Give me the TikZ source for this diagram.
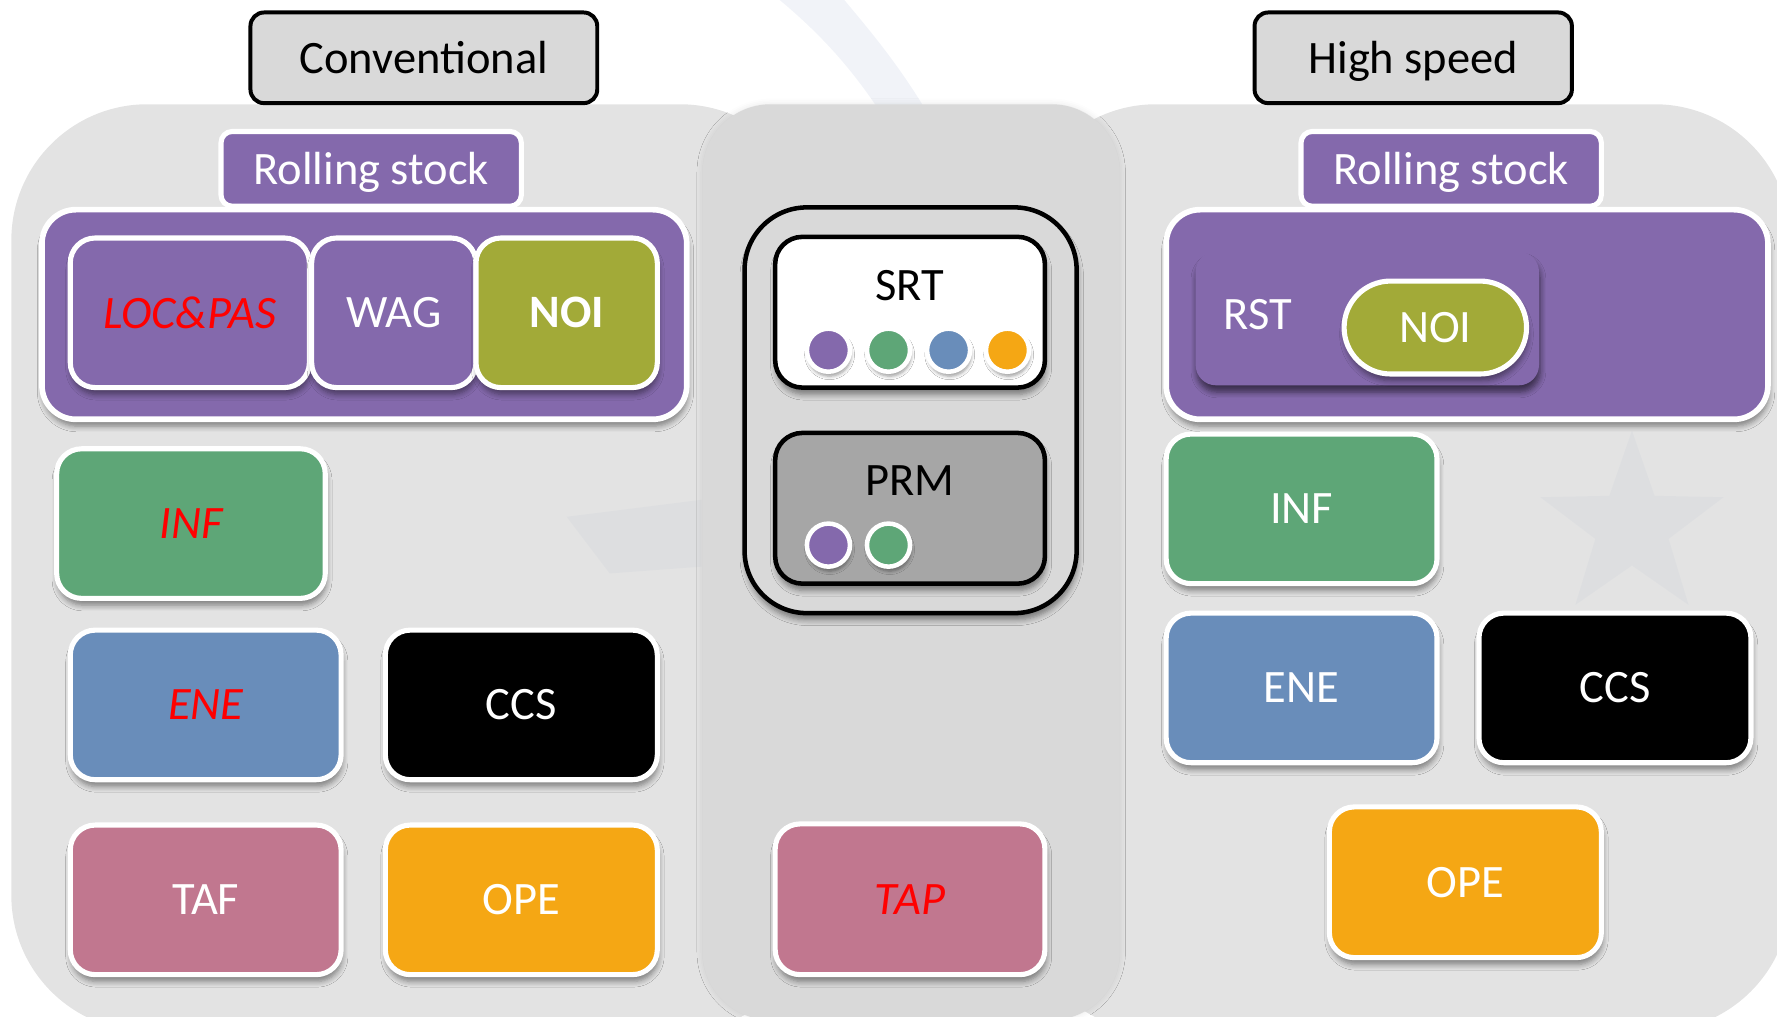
\documentclass[tikz,border=0pt]{standalone}
\usepackage{fontspec}
\setmainfont{Carlito}
\usetikzlibrary{shadows.blur}

\definecolor{panelL}{HTML}{E3E3E3}
\definecolor{panelC}{HTML}{D9D9D9}
\definecolor{hdrgrey}{HTML}{D9D9D9}
\definecolor{rsviolet}{HTML}{8469AC}
\definecolor{noiolive}{HTML}{A2AA38}
\definecolor{infgreen}{HTML}{5EA677}
\definecolor{eneblue}{HTML}{698DBA}
\definecolor{tafpink}{HTML}{C1778F}
\definecolor{opeorange}{HTML}{F5A714}
\definecolor{prmgrey}{HTML}{A6A6A6}
\definecolor{wmark}{HTML}{4A67A8}

\newcommand{\lblfont}{\fontsize{41}{49}\selectfont}

\tikzset{
  softshadow/.style={blur shadow={shadow xshift=1pt, shadow yshift=-6pt,
      shadow blur steps=6, shadow blur radius=5pt, shadow opacity=45}},
  hdrbox/.style={rectangle, rounded corners=12pt, draw=black, line width=3.5pt,
      fill=hdrgrey, font=\lblfont, text=black, text depth=0pt},
  tile/.style={rectangle, rounded corners=22pt, draw=white, line width=4.5pt,
      text=white, font=\lblfont, softshadow},
  tabbox/.style={rectangle, rounded corners=10pt, draw=white, line width=4.5pt,
      fill=rsviolet, text=white, font=\lblfont, text depth=0pt},
  holder/.style={rectangle, rounded corners=30pt, draw=white, line width=5pt,
      fill=rsviolet, softshadow},
  redlbl/.style={text=red, font=\lblfont\itshape},
  lbl/.style={font=\lblfont},
  framebox/.style={rectangle, rounded corners=24pt, draw=black, line width=4pt, softshadow},
  dot/.style={circle, minimum size=38pt, inner sep=0pt, draw=white, line width=4pt,
      blur shadow={shadow xshift=1pt, shadow yshift=-4pt, shadow blur steps=5,
      shadow blur radius=3pt, shadow opacity=40}}
}

\begin{document}
\begin{tikzpicture}[x=1pt,y=-1pt]
\useasboundingbox (0,0) rectangle (1568,897);
\clip (0,0) rectangle (1568,897);

% faint logo swoosh behind the panels
\begin{scope}[wmark, opacity=0.08]
  \fill (688,0) .. controls (730,35) and (760,70) .. (790,120)
        -- (830,120) .. controls (800,65) and (770,30) .. (745,0) -- cycle;
\end{scope}

% the three panels
\fill[panelL, rounded corners=120pt] (10,92) rectangle (720,910);
\fill[panelL, rounded corners=120pt] (900,92) rectangle (1580,910);

% faint logo shapes over the outer panels
\begin{scope}[wmark, opacity=0.035]
  \fill (1440,465) +(-90:85) -- +(-54:34) -- +(-18:85) -- +(18:34) -- +(54:85)
        -- +(90:34) -- +(126:85) -- +(162:34) -- +(198:85) -- +(234:34) -- cycle;
  \fill (500,456) -- (619,441) -- (619,500) -- (538,506) -- cycle;
\end{scope}

\fill[panelC, rounded corners=60pt,
      blur shadow={shadow xshift=0pt, shadow yshift=0pt, shadow blur radius=5pt,
      shadow opacity=10}] (620,92) rectangle (988,900);

% headers
\node[hdrbox, minimum width=306pt, minimum height=80pt] (conv) at (374,51) {Conventional};
\node[hdrbox, minimum width=280pt, minimum height=80pt] (hs) at (1247,51) {High speed};

% conventional rolling stock
\node[tabbox, minimum width=265pt, minimum height=66pt] (rsL) at (327.5,149) {Rolling stock};
\node[holder, minimum width=569pt, minimum height=185pt] (rsLbox) at (321.5,277.5) {};
\node[tile, fill=rsviolet, minimum width=211pt, minimum height=132pt, redlbl] (loc) at (167.5,276) {LOC\&PAS};
\node[tile, fill=rsviolet, minimum width=145pt, minimum height=132pt] (wag) at (347.5,276) {WAG};
\node[tile, fill=noiolive, minimum width=160pt, minimum height=132pt, font=\lblfont\bfseries] (noiL) at (500,276) {NOI};

% conventional subsystems
\node[tile, fill=infgreen, minimum width=237pt, minimum height=132pt, redlbl] (infL) at (168.5,462) {INF};
\node[tile, fill=eneblue, minimum width=239pt, minimum height=132pt, redlbl] (eneL) at (181.5,622) {ENE};
\node[tile, fill=black, minimum width=240pt, minimum height=132pt] (ccsL) at (460,622) {CCS};
\node[tile, fill=tafpink, minimum width=239pt, minimum height=132pt] (taf) at (181.5,794) {TAF};
\node[tile, fill=opeorange, minimum width=240pt, minimum height=132pt] (opeL) at (460,794) {OPE};

% TSIs common to both
\node[framebox, fill=panelC, rounded corners=55pt, minimum width=293pt, minimum height=358pt] (common) at (803.5,362) {};
\node[framebox, fill=white, minimum width=238pt, minimum height=133pt] (srt) at (803,275.5) {};
\node[lbl, text=black] (srtl) at (803,252) {SRT};
\node[dot, fill=rsviolet] (srt1) at (731,309) {};
\node[dot, fill=infgreen] (srt2) at (784,309) {};
\node[dot, fill=eneblue] (srt3) at (837,309) {};
\node[dot, fill=opeorange] (srt4) at (889,309) {};
\node[framebox, fill=prmgrey, minimum width=238pt, minimum height=133pt] (prm) at (803,448.5) {};
\node[lbl, text=black] (prml) at (803,424) {PRM};
\node[dot, fill=rsviolet] (prm1) at (731,481) {};
\node[dot, fill=infgreen] (prm2) at (784,481) {};
\node[tile, fill=tafpink, minimum width=238pt, minimum height=133pt, redlbl] (tap) at (803,793.5) {TAP};

% high speed rolling stock
\node[tabbox, minimum width=265pt, minimum height=66pt] (rsR) at (1280.5,149) {Rolling stock};
\node[holder, minimum width=531pt, minimum height=185pt] (rsRbox) at (1294.5,277.5) {};
\node[rectangle, rounded corners=18pt, fill=rsviolet, minimum width=303pt, minimum height=118pt,
      blur shadow={shadow xshift=1pt, shadow yshift=-6pt, shadow blur steps=6,
      shadow blur radius=5pt, shadow opacity=55}] (rst) at (1206.5,281) {};
\node[lbl, text=white] (rstl) at (1110,278) {RST};
\node[tile, fill=noiolive, rounded corners=41pt, minimum width=161pt, minimum height=82pt] (noiR) at (1266.5,289) {NOI};

% high speed subsystems
\node[tile, fill=infgreen, minimum width=239pt, minimum height=132pt] (infR) at (1148.5,449) {INF};
\node[tile, fill=eneblue, minimum width=239pt, minimum height=132pt] (eneR) at (1148.5,607) {ENE};
\node[tile, fill=black, minimum width=240pt, minimum height=132pt] (ccsR) at (1425,607) {CCS};
\node[tile, fill=opeorange, minimum width=240pt, minimum height=133pt] (opeR) at (1293,778.5) {OPE};
\end{tikzpicture}
\end{document}
